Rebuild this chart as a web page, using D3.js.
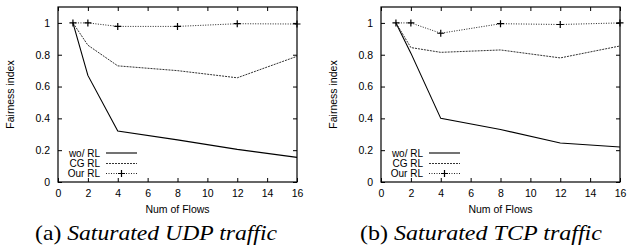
<!DOCTYPE html>
<html>
<head>
<meta charset="utf-8">
<script src="https://cdn.jsdelivr.net/npm/d3@7"></script>
<style>
  body { margin: 0; background: #fff; }
  svg text { font-family: "Liberation Sans", Arial, sans-serif; }
  svg text.caption { font-family: "Liberation Serif", "Times New Roman", serif; }
</style>
</head>
<body>
<div id="chart"></div>
<script>
const W = 628, H = 248;

// x positions shared by every series
const flows = [1, 2, 4, 8, 12, 16];
const xTicks = [0, 2, 4, 6, 8, 10, 12, 14, 16];
const yTicks = [0, 0.2, 0.4, 0.6, 0.8, 1];
const seriesNames = ["wo/ RL", "CG RL", "Our RL"];

// (a) saturated UDP
const udpWo = [1, 0.67, 0.32, 0.265, 0.205, 0.155];
const udpCg = [1, 0.86, 0.73, 0.70, 0.655, 0.79];
const udpOur = [1, 1.0, 0.978, 0.978, 0.995, 0.993];

// (b) saturated TCP
const tcpWo = [1, 0.81, 0.40, 0.33, 0.245, 0.22];
const tcpCg = [1, 0.845, 0.815, 0.83, 0.78, 0.855];
const tcpOur = [1, 1.0, 0.935, 0.995, 0.99, 1.0];

const panels = [
    { left: 58, right: 297, cap: "(a) ", capIt: "Saturated UDP traffic", capX: 156, data: [udpWo, udpCg, udpOur] },
    { left: 381, right: 620, cap: "(b) ", capIt: "Saturated TCP traffic", capX: 481, data: [tcpWo, tcpCg, tcpOur] },
];

const styles = [
    { stroke: "#000", width: 1.1, dash: null },
    { stroke: "#333", width: 1, dash: "2,1" },
    { stroke: "#222", width: 1, dash: "1,1.5" },
];

const svg = d3.select("#chart").append("svg")
    .attr("width", W)
    .attr("height", H);

const plotTop = 7, plotBottom = 182;

panels.forEach(p => {
    const x = d3.scaleLinear().domain([0, 16]).range([p.left, p.right]);
    const y = d3.scaleLinear().domain([0, 1.1]).range([plotBottom, plotTop]);
    const g = svg.append("g");

    // tick marks on all four sides, pointing inward (gnuplot style)
    const tl = 4;
    g.append("g").attr("transform", `translate(0,${plotBottom})`)
        .call(d3.axisBottom(x).tickValues(xTicks).tickSize(-tl).tickPadding(8).tickFormat(d3.format("d")));
    g.append("g").attr("transform", `translate(0,${plotTop})`)
        .call(d3.axisTop(x).tickValues(xTicks).tickSize(-tl).tickFormat(""));
    g.append("g").attr("transform", `translate(${p.left},0)`)
        .call(d3.axisLeft(y).tickValues(yTicks).tickSize(-tl).tickPadding(8).tickFormat(d => d === 0 || d === 1 ? d3.format("d")(d) : d3.format(".1f")(d)));
    g.append("g").attr("transform", `translate(${p.right},0)`)
        .call(d3.axisRight(y).tickValues(yTicks).tickSize(-tl).tickFormat(""));

    g.selectAll(".domain").remove();
    g.selectAll(".tick line").attr("stroke", "#000");
    g.selectAll(".tick text").attr("font-size", 10.5).attr("fill", "#000");

    g.append("rect")
        .attr("x", p.left).attr("y", plotTop)
        .attr("width", p.right - p.left).attr("height", plotBottom - plotTop)
        .attr("fill", "none").attr("stroke", "#000").attr("stroke-width", 1.2);

    // axis titles
    g.append("text")
        .attr("transform", `translate(${p.left - 44},${(plotTop + plotBottom) / 2}) rotate(-90)`)
        .attr("text-anchor", "middle")
        .attr("font-size", 10.5)
        .text("Fairness index");
    g.append("text")
        .attr("x", (p.left + p.right) / 2).attr("y", 213)
        .attr("text-anchor", "middle")
        .attr("font-size", 10.5)
        .text("Num of Flows");

    // lines
    const line = d3.line().x((d, i) => x(flows[i])).y(d => y(d));
    p.data.forEach((vals, k) => {
        g.append("path")
            .datum(vals)
            .attr("d", line)
            .attr("fill", "none")
            .attr("stroke", styles[k].stroke)
            .attr("stroke-width", styles[k].width)
            .attr("stroke-dasharray", styles[k].dash);
    });

    // + markers for "Our RL"
    g.selectAll(".mark")
        .data(p.data[2])
        .enter()
        .append("path")
        .attr("d", (d, i) => `M${x(flows[i]) - 3.5},${y(d)}h7M${x(flows[i])},${y(d) - 3.5}v7`)
        .attr("stroke", "#000")
        .attr("stroke-width", 1.2);

    // legend
    const legX = p.left + 42;
    const rows = [153, 163.5, 173.5];
    seriesNames.forEach((name, k) => {
        g.append("text")
            .attr("x", legX).attr("y", rows[k] + 3.6)
            .attr("text-anchor", "end")
            .attr("font-size", 10)
            .text(name);
        g.append("line")
            .attr("x1", legX + 6).attr("x2", legX + 37)
            .attr("y1", rows[k]).attr("y2", rows[k])
            .attr("stroke", styles[k].stroke)
            .attr("stroke-width", styles[k].width)
            .attr("stroke-dasharray", styles[k].dash);
        if (k === 2) {
            g.append("path")
                .attr("d", `M${legX + 18},${rows[k]}h7M${legX + 21.5},${rows[k] - 3.5}v7`)
                .attr("stroke", "#000").attr("stroke-width", 1.2);
        }
    });

    // caption
    const cap = g.append("text")
        .attr("class", "caption")
        .attr("x", p.capX).attr("y", 240)
        .attr("text-anchor", "middle")
        .attr("font-size", 21)
        .attr("textLength", 242)
        .attr("lengthAdjust", "spacingAndGlyphs");
    cap.append("tspan").text(p.cap);
    cap.append("tspan").attr("font-style", "italic").text(p.capIt);
});
</script>
</body>
</html>
